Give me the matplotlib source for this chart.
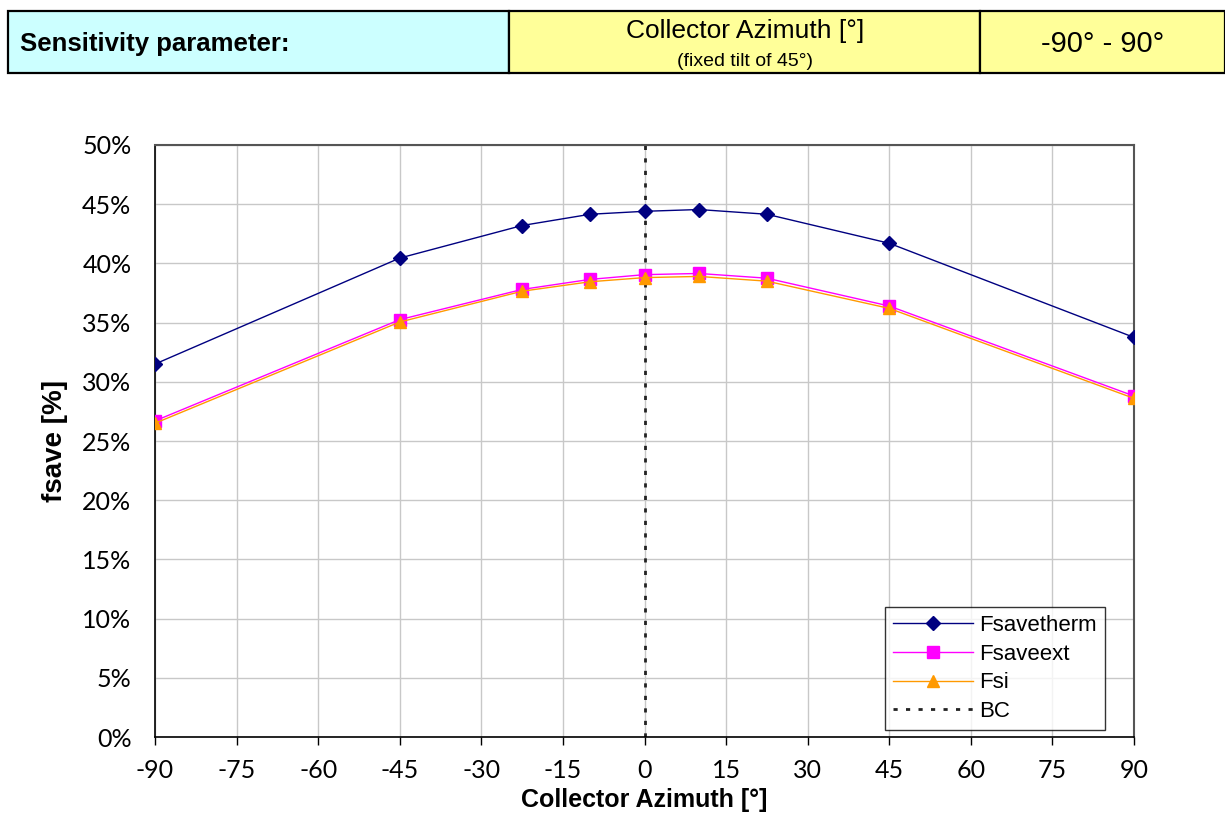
import matplotlib
matplotlib.use("Agg")
import matplotlib.pyplot as plt
from matplotlib.patches import Rectangle
from matplotlib.ticker import FuncFormatter, MultipleLocator

plt.rcParams["axes.unicode_minus"] = False

azimuth = [-90, -45, -22.5, -10, 0, 10, 22.5, 45, 90]
fsavetherm = [31.5, 40.45, 43.2, 44.15, 44.4, 44.55, 44.15, 41.7, 33.75]
fsaveext = [26.7, 35.25, 37.8, 38.65, 39.05, 39.15, 38.75, 36.4, 28.8]
fsi = [26.5, 35.05, 37.65, 38.45, 38.8, 38.9, 38.5, 36.2, 28.6]
bc_x = [0, 0]
bc_y = [0, 50]
xticks = list(range(-90, 91, 15))

fig = plt.figure(figsize=(12.25, 8.21), dpi=100)
W, H = 1225, 821

def fx(px):
    return px / W

def fy(py):
    return 1 - py / H

# header table
cells = [(8, 509, "#CCFFFF"), (509, 980, "#FFFF99"), (980, 1225, "#FFFF99")]
for x0, x1, c in cells:
    fig.patches.append(Rectangle((fx(x0), fy(73)), fx(x1) - fx(x0), fy(11) - fy(73),
                                 transform=fig.transFigure, facecolor=c,
                                 edgecolor="black", linewidth=1.6, zorder=0))
fig.text(fx(20), fy(44), "Sensitivity parameter:", fontsize=18.5, fontweight="bold",
         family="Liberation Sans", va="center", ha="left")
fig.text(fx(745), fy(31), "Collector Azimuth [°]", fontsize=19, family="Liberation Sans",
         va="center", ha="center")
fig.text(fx(745), fy(61), "(fixed tilt of 45°)", fontsize=14, family="Liberation Sans",
         va="center", ha="center")
fig.text(fx(1103), fy(44), "-90° - 90°", fontsize=21, family="Liberation Sans",
         va="center", ha="center")

ax = fig.add_axes([fx(155), fy(737), fx(1134) - fx(155), fy(145) - fy(737)])
ax.plot(azimuth, fsavetherm, color="#000080", lw=1.0, marker="D", ms=7.5, label="Fsavetherm", zorder=4)
ax.plot(azimuth, fsaveext, color="#FF00FF", lw=1.0, marker="s", ms=8, label="Fsaveext", zorder=3)
ax.plot(azimuth, fsi, color="#FF9900", lw=1.0, marker="^", ms=8, label="Fsi", zorder=5)
ax.plot(bc_x, bc_y, color="#222222", lw=2.0, linestyle=(0, (1.5, 3)), label="BC", zorder=2)

ax.set_xlim(-90, 90)
ax.set_ylim(0, 50)
ax.set_xticks(xticks)
ax.yaxis.set_major_locator(MultipleLocator(5))
ax.yaxis.set_major_formatter(FuncFormatter(lambda v, p: f"{v:.0f}%"))
ax.grid(True, color="#C8C8C8", lw=1.0)
ax.set_axisbelow(True)
for s in ["left", "bottom"]:
    ax.spines[s].set_color("black")
    ax.spines[s].set_linewidth(1.2)
for s in ["top", "right"]:
    ax.spines[s].set_color("#555555")
    ax.spines[s].set_linewidth(1.5)
ax.tick_params(axis="x", direction="out", length=6, width=1, pad=10, labelsize=18)
ax.tick_params(axis="y", length=0, pad=17, labelsize=18)
for lab in ax.get_xticklabels() + ax.get_yticklabels():
    lab.set_family("Lato")
ax.set_xlabel("Collector Azimuth [°]", fontsize=18, fontweight="bold", family="Liberation Sans", labelpad=4)
ax.set_ylabel("fsave [%]", fontsize=20, fontweight="bold", family="Liberation Sans", labelpad=10)

leg = ax.legend(loc="lower right", bbox_to_anchor=(0.9704, 0.0118), frameon=True, fancybox=False,
                edgecolor="black", prop={"family": "Liberation Sans", "size": 16},
                handlelength=3.6, borderpad=0.35, labelspacing=0.35, handletextpad=0.3,
                borderaxespad=0)
leg.get_frame().set_linewidth(1.0)

fig.savefig("out.png", dpi=100)
